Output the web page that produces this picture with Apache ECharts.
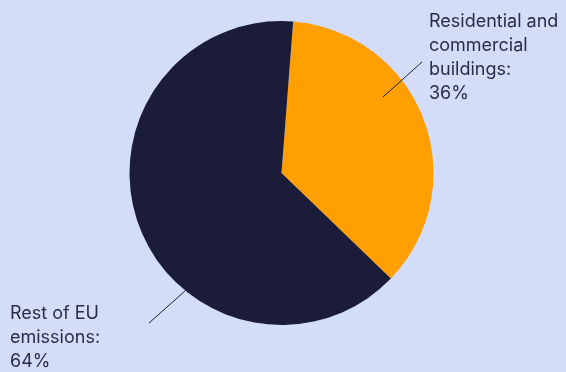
<!DOCTYPE html>
<html>
<head>
<meta charset="utf-8">
<script src="https://cdn.jsdelivr.net/npm/echarts@6/dist/echarts.min.js"></script>
<style>
  html, body { margin: 0; padding: 0; background: #d3dcf9; }
  #chart { width: 566px; height: 372px; }
</style>
</head>
<body>
<div id="chart"></div>
<script>
const categories = ["Residential and\ncommercial\nbuildings:", "Rest of EU\nemissions:"];
const shares = [36, 64];
const colors = ["#ff9f00", "#1a1c3a"];

// where each label block sits, and its leader line
const labelSpots = [
  { x: 429, y: 10, lineFrom: [383, 97], lineTo: [422, 62] },
  { x: 10, y: 302, lineFrom: [185, 291], lineTo: [149, 323] }
];

const chart = echarts.init(document.getElementById("chart"));

chart.setOption({
  backgroundColor: "#d3dcf9",
  animation: false,
  // leader lines drawn on top so they stay visible over the slice
  graphic: labelSpots.map(s => ({
    type: "line",
    z: 100,
    shape: { x1: s.lineFrom[0], y1: s.lineFrom[1], x2: s.lineTo[0], y2: s.lineTo[1] },
    style: { stroke: "#1a1c3a", lineWidth: 1 }
  })),
  series: [{
    type: "pie",
    center: [281.5, 173],
    radius: [0, 152],
    startAngle: 85.6,
    clockwise: true,
    data: categories.map((name, i) => ({
      name: name,
      value: shares[i],
      itemStyle: { color: colors[i] }
    })),
    label: {
      show: true,
      formatter: p => p.name + "\n" + p.value + "%",
      color: "#2a2d47",
      fontFamily: "Inter",
      fontSize: 18,
      lineHeight: 24,
      align: "left",
      overflow: "none",
      width: 200
    },
    labelLine: { show: false },
    labelLayout: p => {
      const s = labelSpots[p.dataIndex];
      return { x: s.x, y: s.y, align: "left", verticalAlign: "top" };
    }
  }]
});
</script>
</body>
</html>
